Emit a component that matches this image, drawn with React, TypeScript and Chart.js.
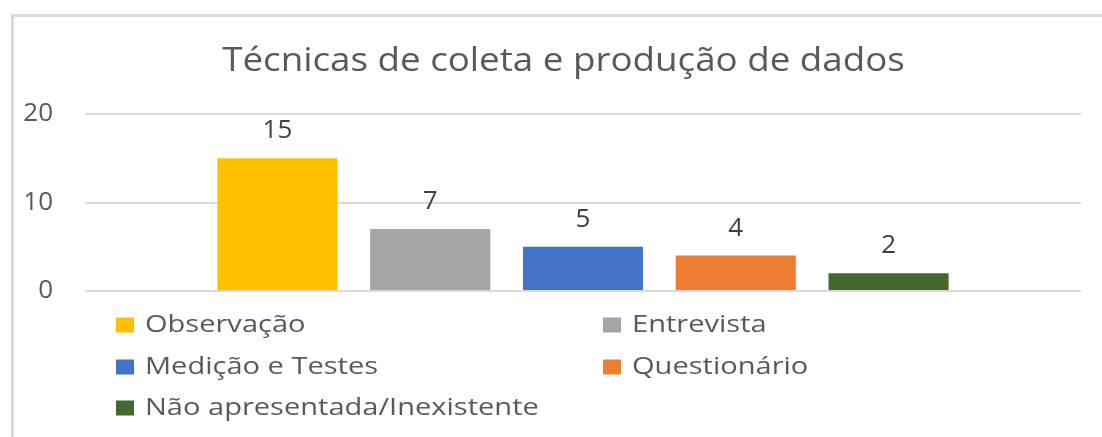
import React, { useEffect, useRef } from "react";
import { Chart, registerables } from "chart.js";

Chart.register(...registerables);

const TITLE = "Técnicas de coleta e produção de dados";
const SERIES_NAMES = [
  "Observação",
  "Entrevista",
  "Medição e Testes",
  "Questionário",
  "Não apresentada/Inexistente",
];
const SERIES_VALUES = [15, 7, 5, 4, 2];
const SERIES_COLORS = ["#FFC000", "#A5A5A5", "#4472C4", "#ED7D31", "#43682B"];
const Y_MAX = 20;
const Y_STEP = 10;

const FONT = "'Open Sans', sans-serif";

const framePlugin = {
  id: "frame",
  beforeDraw(chart: any) {
    const ctx = chart.ctx;
    ctx.save();
    ctx.fillStyle = "#ffffff";
    ctx.fillRect(0, 0, chart.width, chart.height);
    ctx.fillStyle = "#D9D9D9";
    ctx.fillRect(11, 14, chart.width - 11, 3);
    ctx.fillRect(11, 14, 3, chart.height - 14);
    ctx.restore();
  },
};

const titlePlugin = {
  id: "wideTitle",
  afterDraw(chart: any) {
    const ctx = chart.ctx;
    ctx.save();
    ctx.font = `32px ${FONT}`;
    ctx.fillStyle = "#595959";
    ctx.textAlign = "center";
    ctx.textBaseline = "alphabetic";
    ctx.translate(563.5, 71);
    ctx.scale(1.148, 1);
    ctx.fillText(TITLE, 0, 0);
    ctx.restore();
  },
};

const valueLabelPlugin = {
  id: "valueLabels",
  afterDatasetsDraw(chart: any) {
    const ctx = chart.ctx;
    ctx.save();
    ctx.font = `26px ${FONT}`;
    ctx.fillStyle = "#404040";
    ctx.textAlign = "center";
    ctx.textBaseline = "alphabetic";
    chart.data.datasets.forEach((ds: any, i: number) => {
      const meta = chart.getDatasetMeta(i);
      meta.data.forEach((el: any, j: number) => {
        ctx.fillText(String(ds.data[j]), el.x, el.y - 20);
      });
    });
    ctx.restore();
  },
};

const gridLegendPlugin = {
  id: "gridLegend",
  afterDraw(chart: any) {
    const ctx = chart.ctx;
    const colX = [116, 603];
    const rowY = [325, 367, 408];
    ctx.save();
    ctx.font = `24px ${FONT}`;
    ctx.textAlign = "left";
    ctx.textBaseline = "middle";
    chart.data.datasets.forEach((ds: any, i: number) => {
      const x = colX[i % 2];
      const y = rowY[Math.floor(i / 2)];
      ctx.fillStyle = ds.backgroundColor;
      ctx.fillRect(x, y - 7.5, 18, 15);
      ctx.fillStyle = "#595959";
      ctx.save();
      ctx.translate(x + 29, y);
      ctx.scale(1.21, 1);
      ctx.fillText(ds.label, 0, 0);
      ctx.restore();
    });
    ctx.restore();
  },
};

export default function App() {
  const ref = useRef<HTMLCanvasElement>(null);

  useEffect(() => {
    if (!ref.current) return;
    const chart = new Chart(ref.current, {
      type: "bar",
      data: {
        labels: [""],
        datasets: SERIES_NAMES.map((name, i) => ({
          label: name,
          data: [SERIES_VALUES[i]],
          backgroundColor: SERIES_COLORS[i],
          borderWidth: 0,
          categoryPercentage: 0.767,
          barPercentage: 0.786,
        })),
      },
      options: {
        responsive: false,
        animation: false,
        devicePixelRatio: 1,
        layout: { padding: { left: 20, right: 21, top: 114, bottom: 146 } },
        plugins: {
          legend: { display: false },
          tooltip: { enabled: false },
          title: { display: false },
        },
        scales: {
          x: { display: false },
          y: {
            min: 0,
            max: Y_MAX,
            ticks: {
              stepSize: Y_STEP,
              color: "#595959",
              font: { family: FONT, size: 26 },
              padding: 32,
            },
            grid: { color: "#D9D9D9", lineWidth: 2, drawTicks: false },
            border: { display: false },
            afterFit: (scale: any) => {
              scale.width = 65;
            },
          },
        },
      },
      plugins: [framePlugin, valueLabelPlugin, gridLegendPlugin, titlePlugin],
    });
    return () => chart.destroy();
  }, []);

  return (
    <div style={{ position: "absolute", left: 0, top: 0, width: 1102, height: 437 }}>
      <canvas ref={ref} width={1102} height={437} />
    </div>
  );
}
